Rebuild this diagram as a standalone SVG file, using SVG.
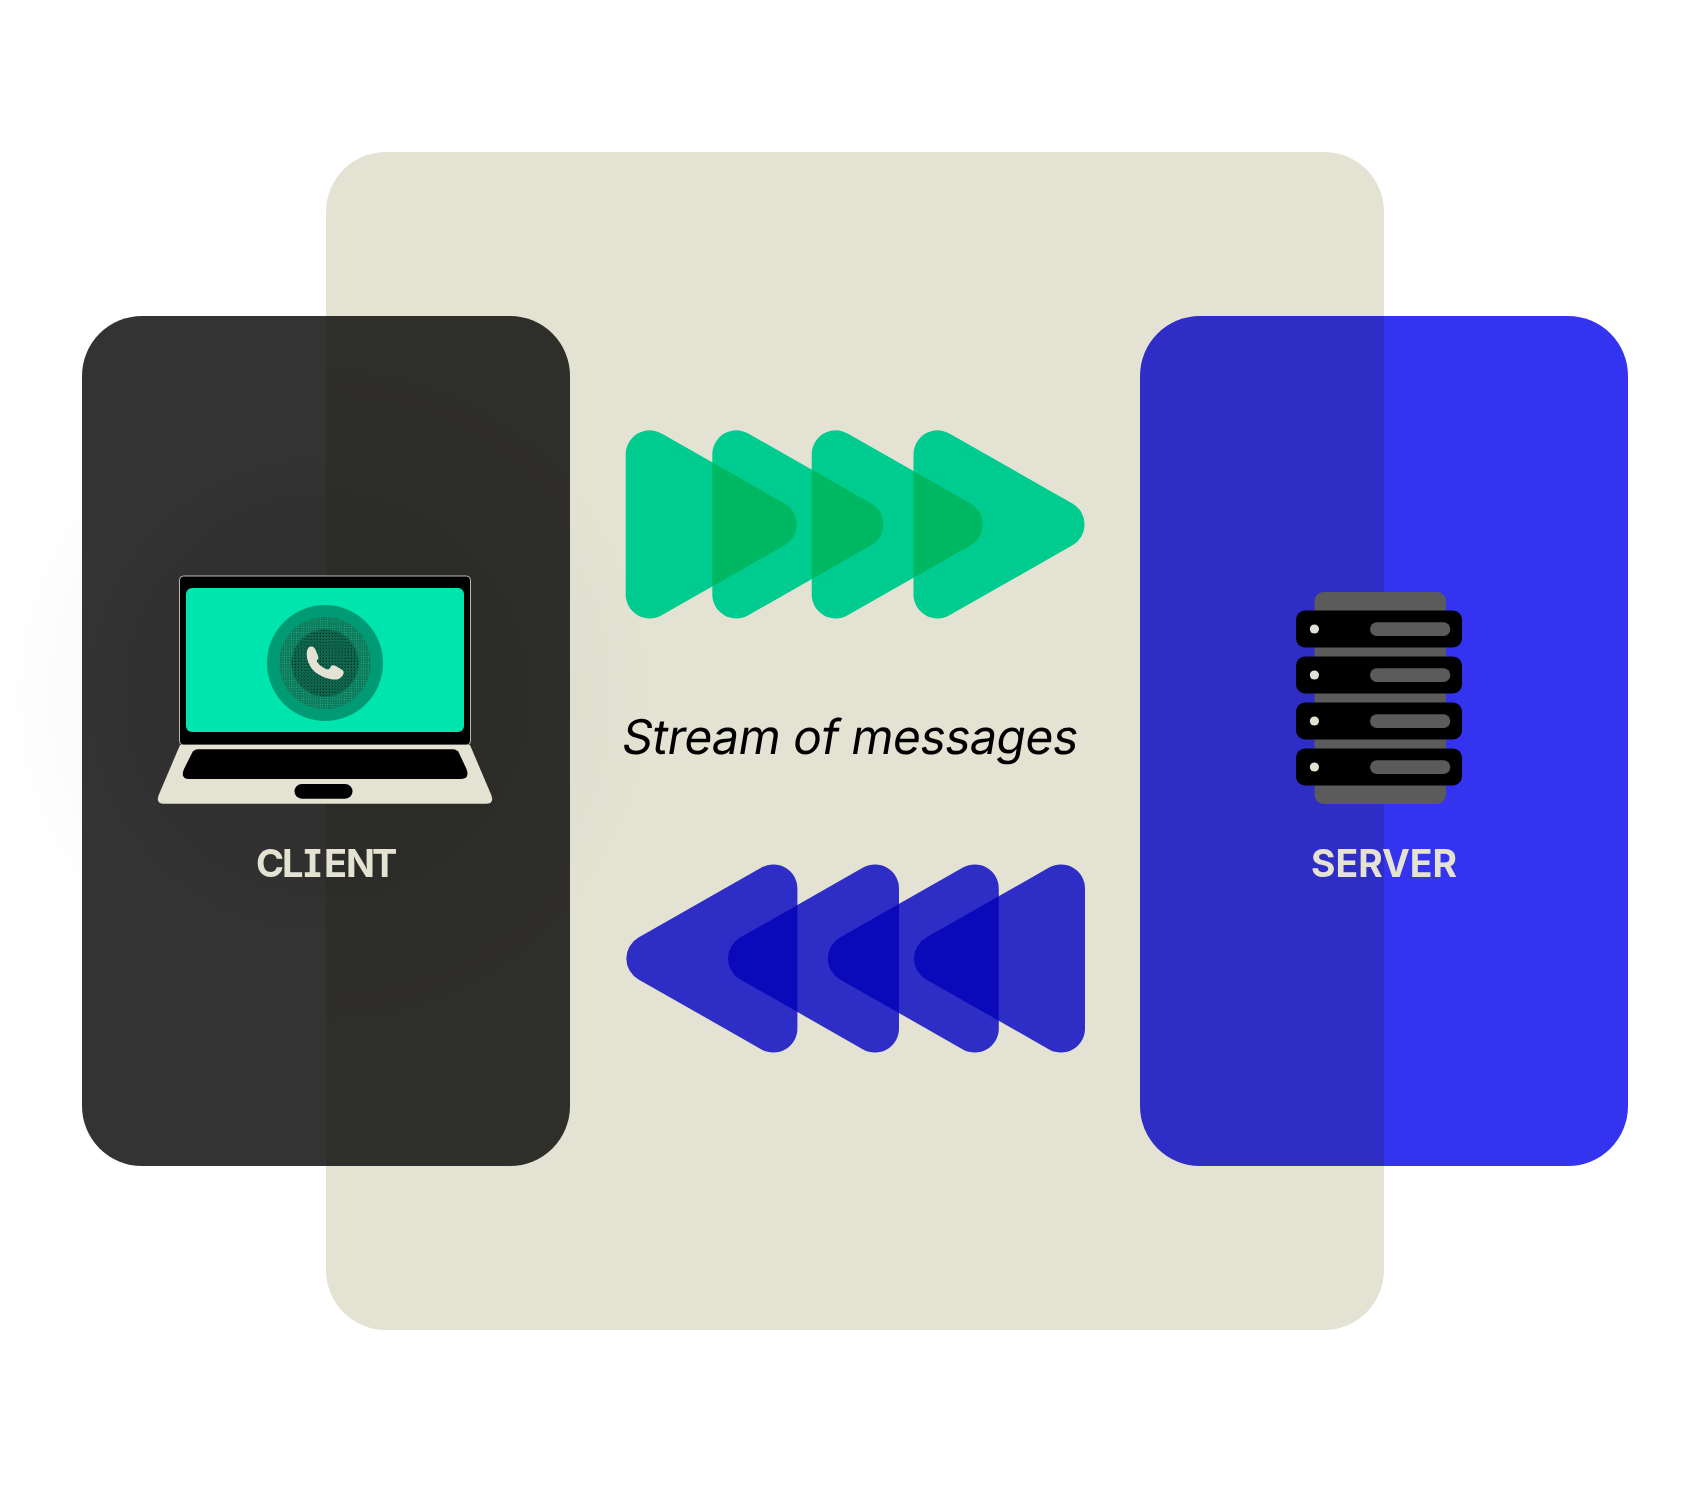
<svg xmlns="http://www.w3.org/2000/svg" width="1696" height="1496" viewBox="0 0 1696 1496">
<style>
.mul{mix-blend-mode:multiply}
.green{fill:#00E6AE}
.blue{fill:#3333F0}
.label{fill:#E3E2D3;font-size:38px;font-weight:680;font-family:"Inter","Liberation Sans",sans-serif;font-feature-settings:"cv08" 1}
.rack{fill:#000}
.grey{fill:#5B5B5B}
.led{fill:#DDE3D2}
</style>
<defs>
<path id="tri" d="M0 24A24 24 0 0 1 35.9 3.1L158.9 73.1A24 24 0 0 1 158.9 114.9L35.9 184.9A24 24 0 0 1 0 164Z"/>
<radialGradient id="glow"><stop offset="0" stop-color="#000" stop-opacity=".02"/><stop offset=".7" stop-color="#000" stop-opacity=".018"/><stop offset="1" stop-color="#000" stop-opacity="0"/></radialGradient>
<radialGradient id="glow2"><stop offset="0" stop-color="#000" stop-opacity=".05"/><stop offset=".9" stop-color="#000" stop-opacity=".05"/><stop offset="1" stop-color="#000" stop-opacity="0"/></radialGradient>
<pattern id="st1" width="2.4" height="2.4" patternUnits="userSpaceOnUse"><circle cx="1.2" cy="1.2" r=".55" fill="#2DB088"/></pattern>
<pattern id="st2" width="3.1" height="3.1" patternUnits="userSpaceOnUse"><circle cx="1" cy="1" r=".6" fill="#000"/><circle cx="2.5" cy="2.6" r=".35" fill="#000"/></pattern>
</defs>
<rect width="1696" height="1496" fill="#fff"/>
<g id="background"><rect x="326" y="152" width="1058" height="1178" rx="60" fill="#E3E2D3"/></g>
<circle cx="325" cy="695" r="335" fill="url(#glow)"/>
<g id="client">
<rect class="mul" x="82" y="316" width="488" height="850" rx="60" fill="#333"/>
<circle cx="325" cy="695" r="212" fill="url(#glow2)"/>
<rect x="179.5" y="576" width="291" height="169" rx="4" fill="#000" stroke="#E3E2D3" stroke-width=".8"/>
<rect x="186" y="588" width="278" height="144" rx="6" fill="#00E5AE"/>
<circle cx="325" cy="663" r="58" fill="#009B74"/>
<circle cx="325" cy="663" r="46" fill="#0B7A5A"/>
<circle cx="325" cy="663" r="46" fill="url(#st1)"/>
<circle cx="325" cy="663" r="34" fill="#106D52"/>
<circle cx="325" cy="663" r="33" fill="url(#st2)"/>
<path d="M306.8 653.3C307 649 308.8 646.8 311 646.6C313.5 646.4 315 648.5 315.8 650.5C317 653 318.6 656.5 318.4 658.3C318.2 659.6 316.8 660 316.7 661C318 663.5 320.5 666 323.3 667.5C325.5 669 327.5 669.8 328.8 669.3C330 668.5 330.5 665.6 332.5 665.2C334.5 665 337.5 667 339.5 668.3C341.5 669.5 343.7 670.5 343.7 672.2C343.6 675.5 340 679 336.7 679.5C331 680.2 321 677.3 314.3 671.3C309.5 666.7 306.5 660 306.8 653.3Z" fill="#E3E2D3"/>
<path d="M180 745H470L491.3 795Q494.5 803.8 486 803.8H164Q155.5 803.8 158.7 795Z" fill="#E3E2D3"/>
<path d="M198 749.3H453Q457 749.3 459 753L466.5 769Q470 779 461 779H189Q180 779 184 769L192 753Q194 749.3 198 749.3Z" fill="#000"/>
<rect x="294.5" y="784" width="58" height="14.7" rx="7.3" fill="#000"/>
<text id="client-label" class="label" x="256 282 303.5 324 346 372" y="876.5">CLIENT</text>
</g>
<g id="server">
<rect class="mul" x="1140" y="316" width="488" height="850" rx="60" fill="#3333F0"/>
<rect class="grey" x="1314.5" y="592" width="131.5" height="212" rx="9"/>
<rect class="rack" x="1296" y="610.5" width="166" height="37" rx="9"/>
<rect class="rack" x="1296" y="656.5" width="166" height="37" rx="9"/>
<rect class="rack" x="1296" y="702.5" width="166" height="37" rx="9"/>
<rect class="rack" x="1296" y="748.5" width="166" height="37" rx="9"/>
<circle class="led" cx="1314.4" cy="629" r="4.6"/><circle class="led" cx="1314.4" cy="675" r="4.6"/><circle class="led" cx="1314.4" cy="721" r="4.6"/><circle class="led" cx="1314.4" cy="767" r="4.6"/>
<rect class="grey" x="1370" y="622.2" width="80.3" height="13.7" rx="6.8"/>
<rect class="grey" x="1370" y="668.2" width="80.3" height="13.7" rx="6.8"/>
<rect class="grey" x="1370" y="714.2" width="80.3" height="13.7" rx="6.8"/>
<rect class="grey" x="1370" y="760.2" width="80.3" height="13.7" rx="6.8"/>
<text id="server-label" class="label" x="1384" y="876.5" text-anchor="middle" textLength="146" lengthAdjust="spacingAndGlyphs">SERVER</text>
</g>
<g id="connectors">
<g id="stream-out">
<use href="#tri" class="mul green" x="625.7" y="430.4"/>
<use href="#tri" class="mul green" x="712.3" y="430.4"/>
<use href="#tri" class="mul green" x="811.7" y="430.4"/>
<use href="#tri" class="mul green" x="913.5" y="430.4"/>
</g>
<g id="stream-in">
<use href="#tri" class="mul blue" transform="translate(797.4 864.5) scale(-1 1)"/>
<use href="#tri" class="mul blue" transform="translate(899 864.5) scale(-1 1)"/>
<use href="#tri" class="mul blue" transform="translate(998.8 864.5) scale(-1 1)"/>
<use href="#tri" class="mul blue" transform="translate(1085 864.5) scale(-1 1)"/>
</g>
</g>
<text id="stream-label" transform="translate(620 753.5) skewX(-9.4)" textLength="456" font-size="48" font-weight="400" font-family="Inter,'Liberation Sans',sans-serif" fill="#000">Stream of messages</text>
</svg>
